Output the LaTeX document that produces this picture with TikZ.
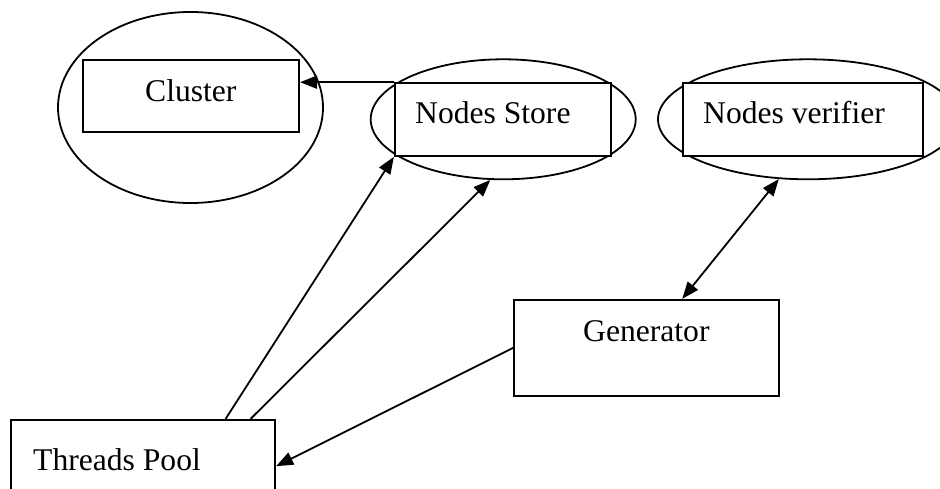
\documentclass[tikz,border=0pt]{standalone}
\usepackage{fontspec}
\setmainfont{Liberation Serif}
\usetikzlibrary{arrows.meta,shapes.geometric,calc}
\begin{document}
\begin{tikzpicture}[x=1pt,y=-1pt,
 box/.style={draw,line width=2.2pt,rectangle,inner sep=0pt,anchor=center,fill=white},
 oval/.style={draw,line width=1.8pt,ellipse,inner sep=0pt,anchor=center},
 lbl/.style={inner sep=0pt,anchor=base west,font=\fontsize{31.6}{38}\selectfont},
 conn/.style={line width=1.8pt,-{Triangle[length=17pt,width=13pt]}},
 conn2/.style={line width=1.8pt,{Triangle[length=17pt,width=13pt]}-{Triangle[length=17pt,width=13pt]}}]
\path[fill=white,use as bounding box] (0,0) rectangle (940,489);
\clip (0,0) rectangle (940,489);
% ellipses
\node[oval,minimum width=265pt,minimum height=191pt] (cle) at (190.5,107.5) {};
\node[oval,minimum width=265pt,minimum height=120pt] (nse) at (503.2,119.3) {};
\node[oval,minimum width=300pt,minimum height=120pt] (nve) at (808,119.3) {};
% boxes
\node[box,minimum width=216.3pt,minimum height=72pt] (cl) at (190.85,96) {};
\node[box,minimum width=215.7pt,minimum height=72.4pt] (ns) at (502.85,119.5) {};
\node[box,minimum width=240.6pt,minimum height=72.4pt] (nv) at (803,119.5) {};
\node[box,minimum width=264.7pt,minimum height=95.7pt] (gen) at (646.65,347.85) {};
\node[box,minimum width=264pt,minimum height=120pt] (tp) at (143,480) {};
% labels
\node[lbl] (cllbl) at (145,101.7) {Cluster};
\node[lbl] (nslbl) at (415,123.3) {Nodes Store};
\node[lbl] (nvlbl) at (703,123.3) {Nodes verifier};
\node[lbl] (genlbl) at (583,341) {Generator};
\node[lbl] (tplbl) at (33,470) {Threads Pool};
% connectors
\coordinate (tpa) at ($(tp.north west)+(215.7,0)$);
\coordinate (tpb) at ($(tp.north west)+(240.7,0)$);
\coordinate (gentop) at ($(gen.north west)+(169,0)$);
\coordinate (tpin) at ($(tp.north east)+(0,47.3)$);
\draw[conn] (ns.north west) -- (ns.north west -| cl.east);
\draw[conn] (tpa) -- (ns.south west);
\draw[conn] (tpb) -- (nse.258);
\draw[conn] (gen.west) -- (tpin);
\draw[conn2] (gentop) -- (nve.244);
\end{tikzpicture}
\end{document}
